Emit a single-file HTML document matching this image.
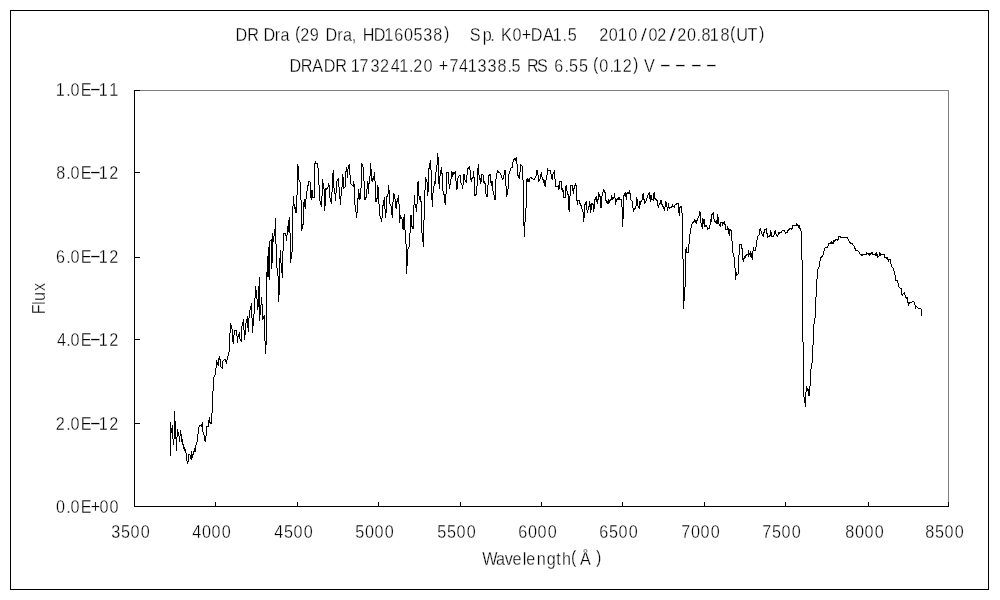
<!DOCTYPE html>
<html lang="en">
<head>
<meta charset="utf-8">
<title>DR Dra (29 Dra, HD160538) spectrum</title>
<style>
html,body{margin:0;padding:0;background:#fff;}
body{width:1000px;height:600px;overflow:hidden;position:relative;}
svg{position:absolute;left:0;top:0;display:block;}
text{font-family:"Liberation Sans","Noto Sans CJK JP",sans-serif;font-size:18px;fill:#000;white-space:pre;stroke:#fff;stroke-width:0.3px;}
</style>
</head>
<body>
<svg width="1000" height="600" viewBox="0 0 1000 600">
<rect x="0" y="0" width="1000" height="600" fill="#fff"/>
<g id="frame" shape-rendering="crispEdges" fill="none" stroke-width="1">
<rect x="10.5" y="10.5" width="978" height="579" stroke="#000"/>
<path d="M134 90.5H949M948.5 90V507" stroke="#808080"/>
<path d="M134.5 90V507M134 506.5H949" stroke="#000"/>
<path d="M215.5 502V506M297.5 502V506M378.5 502V506M460.5 502V506M541.5 502V506M622.5 502V506M704.5 502V506M785.5 502V506M868.5 502V506M135 172.5H140M135 257.5H140M135 339.5H140M135 423.5H140M948.5 502V506M135 90.5H140" stroke="#000"/>
<path id="spectrum" stroke="#000" d="M170.5 422V456M171.5 428V433M172.5 425V439M173.5 439V445M174.5 411V439M175.5 421V439M176.5 437V451
M177.5 429V437M178.5 432V436M179.5 436V442M180.5 430V436M181.5 434V442M182.5 439V445M183.5 444V449
M184.5 447V451M185.5 449V453M186.5 453V461M187.5 461V464M188.5 454V462M189.5 454V455M190.5 455V459
M191.5 451V460M192.5 454V458M193.5 451V455M194.5 448V452M195.5 445V452M196.5 442V445M197.5 434V442
M198.5 427V434M199.5 425V427M200.5 425V426M201.5 424V427M202.5 422V432M203.5 432V435M204.5 435V441
M205.5 436V442M206.5 426V436M207.5 426V427M208.5 420V427M209.5 417V423M210.5 422V424M211.5 413V424
M212.5 391V413M213.5 377V391M214.5 375V377M215.5 368V375M216.5 360V368M217.5 362V365M218.5 358V366
M219.5 356V360M220.5 359V367M221.5 367V368M222.5 361V369M223.5 360V361M224.5 359V360M225.5 359V362
M226.5 360V364M227.5 356V360M228.5 352V356M229.5 333V352M230.5 323V333M231.5 325V329M232.5 329V342
M233.5 335V344M234.5 330V335M235.5 330V331M236.5 330V336M237.5 336V343M238.5 334V337M239.5 332V339
M240.5 339V341M241.5 326V342M242.5 322V326M243.5 319V330M244.5 330V340M245.5 323V335M246.5 319V323
M247.5 316V328M248.5 318V332M249.5 310V318M250.5 306V310M251.5 303V318M252.5 318V333M253.5 314V326
M254.5 298V314M255.5 286V298M256.5 290V299M257.5 299V310M258.5 286V307M259.5 277V321M260.5 305V315
M261.5 297V305M262.5 304V320M263.5 316V319M264.5 315V341M265.5 341V354M266.5 272V345M267.5 256V277
M268.5 247V277M269.5 241V280M270.5 240V241M271.5 239V269M272.5 233V263M273.5 236V242M274.5 229V236
M275.5 218V244M276.5 244V268M277.5 268V276M278.5 276V302M279.5 258V295M280.5 250V263M281.5 263V273
M282.5 251V278M283.5 233V251M284.5 233V234M285.5 233V236M286.5 235V241M287.5 226V235M288.5 220V232
M289.5 217V233M290.5 233V263M291.5 252V259M292.5 206V252M293.5 196V206M294.5 204V209M295.5 207V213
M296.5 195V213M297.5 164V195M298.5 166V180M299.5 180V182M300.5 182V200M301.5 200V231M302.5 224V229
M303.5 202V225M304.5 199V207M305.5 199V209M306.5 191V199M307.5 185V191M308.5 181V186M309.5 181V182
M310.5 182V198M311.5 190V200M312.5 190V198M313.5 197V198M314.5 163V198M315.5 161V164M316.5 163V164
M317.5 163V168M318.5 168V185M319.5 185V201M320.5 201V205M321.5 196V207M322.5 179V196M323.5 183V189
M324.5 189V211M325.5 188V206M326.5 188V190M327.5 187V189M328.5 183V187M329.5 185V198M330.5 198V202
M331.5 192V204M332.5 173V192M333.5 170V188M334.5 188V194M335.5 193V201M336.5 181V193M337.5 179V181
M338.5 178V187M339.5 187V199M340.5 196V205M341.5 187V196M342.5 174V187M343.5 177V189M344.5 187V188
M345.5 171V187M346.5 167V172M347.5 169V178M348.5 165V169M349.5 164V175M350.5 175V184M351.5 184V185
M352.5 185V186M353.5 181V187M354.5 184V205M355.5 205V212M356.5 212V218M357.5 198V213M358.5 189V199
M359.5 193V200M360.5 188V199M361.5 163V188M362.5 164V167M363.5 167V181M364.5 181V200M365.5 197V200
M366.5 189V198M367.5 181V189M368.5 183V194M369.5 176V184M370.5 163V176M371.5 169V181M372.5 178V182
M373.5 176V180M374.5 172V181M375.5 181V202M376.5 198V202M377.5 185V199M378.5 187V204M379.5 204V216
M380.5 216V219M381.5 218V222M382.5 205V218M383.5 200V206M384.5 197V209M385.5 209V218M386.5 196V213
M387.5 194V197M388.5 185V194M389.5 190V204M390.5 204V206M391.5 206V215M392.5 202V218M393.5 193V202
M394.5 194V199M395.5 199V208M396.5 201V209M397.5 198V202M398.5 195V204M399.5 204V223M400.5 215V219
M401.5 217V219M402.5 219V229M403.5 217V230M404.5 214V230M405.5 230V244M406.5 244V274M407.5 249V266
M408.5 247V249M409.5 233V247M410.5 215V233M411.5 215V227M412.5 226V229M413.5 205V229M414.5 195V205
M415.5 204V208M416.5 204V212M417.5 182V204M418.5 181V196M419.5 196V200M420.5 196V202M421.5 201V233
M422.5 233V242M423.5 220V247M424.5 190V220M425.5 177V190M426.5 179V182M427.5 182V196M428.5 168V192
M429.5 163V169M430.5 160V170M431.5 170V200M432.5 193V207M433.5 186V193M434.5 181V186M435.5 172V184
M436.5 165V172M437.5 153V165M438.5 157V184M439.5 176V189M440.5 170V176M441.5 167V174M442.5 173V191
M443.5 191V195M444.5 194V203M445.5 194V205M446.5 172V194M447.5 172V173M448.5 172V184M449.5 184V189
M450.5 179V185M451.5 171V179M452.5 172V177M453.5 172V175M454.5 172V174M455.5 171V181M456.5 181V190
M457.5 178V189M458.5 176V178M459.5 175V176M460.5 175V183M461.5 183V185M462.5 185V189M463.5 174V185
M464.5 174V180M465.5 180V182M466.5 175V183M467.5 168V175M468.5 167V169M469.5 166V170M470.5 170V180
M471.5 178V182M472.5 177V179M473.5 171V178M474.5 177V196M475.5 194V196M476.5 186V195M477.5 168V186
M478.5 164V175M479.5 175V180M480.5 178V184M481.5 174V182M482.5 174V175M483.5 175V183M484.5 181V184
M485.5 183V194M486.5 194V197M487.5 185V197M488.5 175V185M489.5 174V176M490.5 174V183M491.5 181V186
M492.5 181V191M493.5 191V195M494.5 195V200M495.5 179V200M496.5 173V179M497.5 170V173M498.5 171V173
M499.5 172V173M500.5 173V175M501.5 175V178M502.5 178V180M503.5 175V179M504.5 170V175M505.5 170V186
M506.5 186V197M507.5 189V195M508.5 174V189M509.5 171V174M510.5 168V171M511.5 167V168M512.5 162V168
M513.5 159V162M514.5 158V160M515.5 158V161M516.5 157V164M517.5 164V176M518.5 175V178M519.5 172V179
M520.5 164V172M521.5 165V166M522.5 166V180M523.5 180V226M524.5 222V237M525.5 208V222M526.5 179V208
M527.5 178V182M528.5 179V182M529.5 178V182M530.5 177V178M531.5 177V179M532.5 178V179M533.5 179V180
M534.5 178V180M535.5 176V178M536.5 170V176M537.5 170V175M538.5 175V182M539.5 179V181M540.5 174V179
M541.5 172V177M542.5 177V180M543.5 179V183M544.5 180V186M545.5 180V187M546.5 175V180M547.5 168V175
M548.5 170V171M549.5 170V171M550.5 170V174M551.5 174V179M552.5 174V180M553.5 172V174M554.5 170V179
M555.5 179V187M556.5 186V187M557.5 186V187M558.5 185V190M559.5 181V189M560.5 181V182M561.5 181V190
M562.5 188V192M563.5 190V198M564.5 197V198M565.5 186V198M566.5 185V191M567.5 191V195M568.5 194V210
M569.5 196V212M570.5 185V196M571.5 185V186M572.5 185V191M573.5 188V194M574.5 185V189M575.5 183V186
M576.5 185V201M577.5 200V205M578.5 200V201M579.5 200V204M580.5 203V206M581.5 205V209M582.5 209V212
M583.5 212V222M584.5 204V218M585.5 202V205M586.5 201V210M587.5 210V213M588.5 206V210M589.5 201V207
M590.5 204V213M591.5 203V210M592.5 203V205M593.5 204V212M594.5 199V209M595.5 197V200M596.5 196V202
M597.5 199V204M598.5 192V200M599.5 194V197M600.5 196V208M601.5 196V208M602.5 192V196M603.5 189V192
M604.5 190V193M605.5 192V201M606.5 200V203M607.5 201V204M608.5 199V204M609.5 200V203M610.5 199V201
M611.5 195V200M612.5 197V200M613.5 197V199M614.5 193V198M615.5 198V205M616.5 199V202M617.5 198V200
M618.5 197V200M619.5 197V200M620.5 199V200M621.5 199V207M622.5 207V227M623.5 195V219M624.5 193V196
M625.5 192V197M626.5 193V200M627.5 192V194M628.5 192V194M629.5 190V194M630.5 193V200M631.5 200V201
M632.5 201V208M633.5 208V212M634.5 208V210M635.5 206V209M636.5 197V206M637.5 199V206M638.5 206V208
M639.5 201V209M640.5 201V205M641.5 200V202M642.5 194V200M643.5 193V200M644.5 199V204M645.5 201V203
M646.5 198V201M647.5 195V198M648.5 193V195M649.5 192V199M650.5 195V202M651.5 195V200M652.5 199V200
M653.5 193V201M654.5 192V199M655.5 198V200M656.5 199V201M657.5 200V206M658.5 205V208M659.5 203V205
M660.5 200V204M661.5 200V205M662.5 204V207M663.5 206V209M664.5 207V211M665.5 201V207M666.5 202V207
M667.5 207V211M668.5 203V208M669.5 207V209M670.5 207V208M671.5 206V208M672.5 204V207M673.5 206V207
M674.5 205V208M675.5 204V205M676.5 203V205M677.5 203V204M678.5 203V213M679.5 207V216M680.5 206V208
M681.5 206V213M682.5 213V259M683.5 259V309M684.5 287V301M685.5 249V287M686.5 247V253M687.5 252V253
M688.5 244V253M689.5 234V244M690.5 228V234M691.5 224V228M692.5 222V224M693.5 221V223M694.5 219V222
M695.5 220V223M696.5 220V224M697.5 218V221M698.5 216V218M699.5 211V216M700.5 212V223M701.5 223V227
M702.5 218V229M703.5 219V224M704.5 219V227M705.5 225V227M706.5 225V227M707.5 227V230M708.5 228V229
M709.5 225V229M710.5 219V225M711.5 214V222M712.5 213V215M713.5 212V219M714.5 219V222M715.5 221V223
M716.5 220V224M717.5 214V224M718.5 217V224M719.5 224V226M720.5 222V227M721.5 222V223M722.5 222V226
M723.5 222V224M724.5 221V225M725.5 224V230M726.5 229V230M727.5 226V230M728.5 228V234M729.5 229V236
M730.5 229V231M731.5 230V241M732.5 241V253M733.5 253V257M734.5 257V268M735.5 268V280M736.5 272V276
M737.5 274V275M738.5 255V274M739.5 244V255M740.5 244V245M741.5 244V249M742.5 248V260M743.5 258V262
M744.5 256V259M745.5 255V258M746.5 254V256M747.5 254V255M748.5 250V257M749.5 253V255M750.5 251V257
M751.5 253V258M752.5 251V260M753.5 247V251M754.5 250V251M755.5 247V251M756.5 240V247M757.5 236V240
M758.5 235V236M759.5 229V235M760.5 228V231M761.5 231V234M762.5 234V236M763.5 232V237M764.5 229V233
M765.5 229V230M766.5 228V234M767.5 233V238M768.5 236V237M769.5 235V237M770.5 230V236M771.5 232V237
M772.5 236V237M773.5 235V237M774.5 231V235M775.5 230V234M776.5 234V236M777.5 235V237M778.5 232V235
M779.5 232V234M780.5 232V233M781.5 231V233M782.5 230V231M783.5 230V231M784.5 230V232M785.5 232V234
M786.5 232V233M787.5 230V233M788.5 229V231M789.5 228V230M790.5 228V229M791.5 228V230M792.5 225V229
M793.5 225V226M794.5 225V226M795.5 225V226M796.5 223V226M797.5 224V226M798.5 225V228M799.5 225V229
M800.5 228V231M801.5 231V260M802.5 260V342M803.5 342V397M804.5 397V403M805.5 392V407M806.5 386V392
M807.5 388V391M808.5 389V396M809.5 386V396M810.5 369V386M811.5 363V369M812.5 345V363M813.5 324V345
M814.5 318V324M815.5 297V318M816.5 279V297M817.5 269V279M818.5 267V269M819.5 261V267M820.5 257V261
M821.5 256V258M822.5 255V257M823.5 251V255M824.5 248V251M825.5 247V248M826.5 247V248M827.5 246V248
M828.5 243V246M829.5 243V244M830.5 242V244M831.5 241V244M832.5 242V244M833.5 240V244M834.5 240V242
M835.5 239V241M836.5 239V240M837.5 239V241M838.5 236V240M839.5 236V237M840.5 236V238M841.5 237V238
M842.5 237V238M843.5 237V238M844.5 237V238M845.5 237V238M846.5 237V238M847.5 237V239M848.5 239V241
M849.5 241V243M850.5 242V244M851.5 243V244M852.5 243V245M853.5 245V246M854.5 246V249M855.5 248V251
M856.5 250V251M857.5 250V251M858.5 251V252M859.5 252V254M860.5 254V255M861.5 254V256M862.5 254V256
M863.5 254V255M864.5 254V255M865.5 254V255M866.5 252V255M867.5 253V254M868.5 253V255M869.5 253V256
M870.5 253V255M871.5 252V254M872.5 252V255M873.5 254V255M874.5 254V255M875.5 253V256M876.5 252V256
M877.5 254V258M878.5 256V257M879.5 252V256M880.5 253V256M881.5 254V255M882.5 254V255M883.5 254V255
M884.5 254V258M885.5 257V258M886.5 257V259M887.5 257V260M888.5 259V262M889.5 259V260M890.5 259V264
M891.5 264V267M892.5 267V268M893.5 268V271M894.5 271V275M895.5 275V281M896.5 280V281M897.5 280V283
M898.5 283V287M899.5 287V288M900.5 288V289M901.5 288V295M902.5 294V296M903.5 293V294M904.5 292V295
M905.5 295V298M906.5 297V299M907.5 297V303M908.5 302V306M909.5 302V304M910.5 302V303M911.5 302V303
M912.5 301V302M913.5 301V302M914.5 302V305M915.5 305V309M916.5 306V307M917.5 307V308M918.5 308V309
M919.5 308V309M920.5 308V309M921.5 309V316"/>
</g>
<g id="title">
<text transform="translate(0 41) scale(0.9 1.06)" x="261.62 274.64 286.67 292.85 305.39 311.57 321.11 327.74 333.61 344.17 353.33 361.74 374.83 381.01 390.71 394.44 402.94 415.35 426.97 437.93 448.78 459.44 470.28 481.39 493.33 498.33 498.33 498.33 498.33 522.06 536.42 544.83 548 556.71 569.44 579.75 589.79 603.44 614.19 625 630.83 640.56 640.56 640.56 640.56 665.83 676.39 686.42 698.06 711.89 720.56 730.28 743.56 752.5 763.33 773.89 779.44 788.64 800.56 811.07 817.94 830.61 843.33" dy="0 0 0 0 0 0 0 -2.36 2.36 0 0 0 0 0 0 0 0 0 0 0 0 0 0 0 -2.36 2.36 0 0 0 0 0 0 0 0 0 0 0 0 0 0 0 0 0 0 0 0 0 0 0 0 0 0 0 0 0 0 0 0 0 -2.36 2.36 0 -2.36">DR Dra (29 Dra, HD160538)    Sp. K0+DA1.5    2010<tspan textLength="6.78" lengthAdjust="spacingAndGlyphs">/</tspan>02<tspan textLength="7.33" lengthAdjust="spacingAndGlyphs">/</tspan>20.818(UT)</text>
<text transform="translate(0 72) scale(0.9 1.06)" x="321.74 334.08 347.06 359.79 372.42 384.44 389.75 399.44 411.67 422.22 434.17 443.64 454.44 459.17 470.56 480 487.53 499.44 510 519.75 530.56 541.67 552.78 563.89 568.33 577.78 585.47 596.78 607.78 615.71 627.22 632.22 643.33 652.78 658.85 665.83 677.22 680.86 691.94 703.33 708.33 715.67 727.78 732.63 744.56 749.3 761.22 767.07 779 783.74" dy="0 0 0 0 0 0 0 0 0 0 0 0 0 0 0 0 0 0 0 0 0 0 0 0 0 0 0 0 0 0 0 0 0 0 -2.36 2.36 0 0 0 -2.36 2.36 0 0 -0.57 0.57 -0.57 0.57 -0.57 0.57 -0.57">DRADR 173241.20 +741338.5 RS 6.55 (0.12) V <tspan textLength="13.61" lengthAdjust="spacingAndGlyphs">-</tspan> <tspan textLength="13.61" lengthAdjust="spacingAndGlyphs">-</tspan> <tspan textLength="13.61" lengthAdjust="spacingAndGlyphs">-</tspan> <tspan textLength="13.61" lengthAdjust="spacingAndGlyphs">-</tspan></text>
</g>
<g id="y-axis-labels">
<text transform="translate(0 96) scale(0.9 1.06)" x="61.97 73.72 78.33 89.74 99.3 109.75 121.42" dy="0 0 0 0 -0.57 0.57 0">1.0E<tspan textLength="13.61" lengthAdjust="spacingAndGlyphs">-</tspan>11</text>
<text transform="translate(0 179) scale(0.9 1.06)" x="62.5 73.72 78.33 89.74 99.3 109.75 121.39" dy="0 0 0 0 -0.57 0.57 0">8.0E<tspan textLength="13.61" lengthAdjust="spacingAndGlyphs">-</tspan>12</text>
<text transform="translate(0 263) scale(0.9 1.06)" x="62.1 73.72 78.33 89.74 99.3 109.75 121.39" dy="0 0 0 0 -0.57 0.57 0">6.0E<tspan textLength="13.61" lengthAdjust="spacingAndGlyphs">-</tspan>12</text>
<text transform="translate(0 346) scale(0.9 1.06)" x="63.22 73.72 78.33 89.74 99.3 109.75 121.39" dy="0 0 0 0 -0.57 0.57 0">4.0E<tspan textLength="13.61" lengthAdjust="spacingAndGlyphs">-</tspan>12</text>
<text transform="translate(0 430) scale(0.9 1.06)" x="61.94 73.72 78.33 89.74 99.3 109.75 121.39" dy="0 0 0 0 -0.57 0.57 0">2.0E<tspan textLength="13.61" lengthAdjust="spacingAndGlyphs">-</tspan>12</text>
<text transform="translate(0 513) scale(0.9 1.06)" x="62.22 73.72 78.33 89.74 100.86 110.56 121.67">0.0E+00</text>
</g>
<g id="x-axis-labels">
<text transform="translate(0 538) scale(0.9 1.06)" x="123.61 134.44 145 156.39">3500</text>
<text transform="translate(0 538) scale(0.9 1.06)" x="213.61 224.44 235 246.39">4000</text>
<text transform="translate(0 538) scale(0.9 1.06)" x="304.72 315.56 326.11 337.5">4500</text>
<text transform="translate(0 538) scale(0.9 1.06)" x="394.72 405.56 416.11 427.5">5000</text>
<text transform="translate(0 538) scale(0.9 1.06)" x="485.83 496.67 507.22 518.61">5500</text>
<text transform="translate(0 538) scale(0.9 1.06)" x="575.71 586.67 597.22 608.61">6000</text>
<text transform="translate(0 538) scale(0.9 1.06)" x="665.71 676.67 687.22 698.61">6500</text>
<text transform="translate(0 538) scale(0.9 1.06)" x="756.94 767.78 778.33 789.72">7000</text>
<text transform="translate(0 538) scale(0.9 1.06)" x="846.94 857.78 868.33 879.72">7500</text>
<text transform="translate(0 538) scale(0.9 1.06)" x="939.17 950 960.56 971.94">8000</text>
<text transform="translate(0 538) scale(0.9 1.06)" x="1028.06 1038.89 1049.44 1060.83">8500</text>
</g>
<g id="axis-titles">
<text transform="translate(0 565) scale(0.9 1.06)" x="535.94 551.01 560.78 569.44 580.78 584.72 596.39 607.47 618.06 624.44 634.4 644.56 662.22" dy="0 0 0 0 0 0 0 0 0 0 -2.36 2.36 -2.36">Wavelength(Å)</text>
<text transform="translate(45 314) rotate(-90) scale(0.9 1.06)" x="-0.32 10.22 14.44 25.5">Flux</text>
</g>
</svg>
</body>
</html>
